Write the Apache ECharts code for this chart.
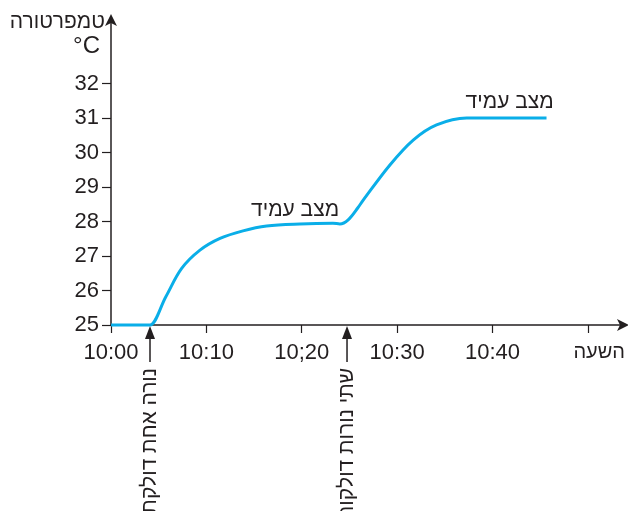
<!DOCTYPE html>
<html><head><meta charset="utf-8">
<script src="https://cdn.jsdelivr.net/npm/echarts@6/dist/echarts.min.js"></script>
<style>html,body{margin:0;padding:0;background:#fff}#c{width:628px;height:511px}</style>
</head><body><div id="c"></div>
<script>
// minutes after 10:00
const minutes = [0, 3.9, 4.09, 5.75, 7.41, 9.33, 11.43, 13.84, 16.32, 19.81, 23.27, 24.0, 24.87, 25.89, 26.45, 29.25, 31.69, 34.14, 37.29, 38.9, 45.67];
const temps   = [25, 25, 25, 25.82, 26.64, 27.17, 27.51, 27.73, 27.87, 27.93, 27.95, 27.93, 28.05, 28.4, 28.62, 29.64, 30.36, 30.8, 31.0, 31.0, 31.0];
const xTickValues = [0, 10, 20, 30, 40, 50];
const xLabelValues = [0, 10, 20, 30, 40];
const xTickLabels = ['10:00', '10:10', '10;20', '10:30', '10:40'];
const yTickValues = [25, 26, 27, 28, 29, 30, 31, 32];
const events = [{ t: 4.09, text: 'נורה אחת דולקת' }, { t: 24.75, text: 'שתי נורות דולקות' }];
const steadyLabels = [{ t: 19.3, v: 28.33, text: 'מצב עמיד' }, { t: 41.8, v: 31.46, text: 'מצב עמיד' }];
const yName = 'טמפרטורה', yUnit = '°C', xName = 'השעה';

const FONT = '"Liberation Sans", Arial, "DejaVu Sans", sans-serif';
const INK = '#231f20';
const chart = echarts.init(document.getElementById('c'), null, { renderer: 'canvas' });
const option = {
  animation: false,
  grid: { left: 111, right: 3, top: 18, bottom: 186 },
  xAxis: {
    type: 'value', min: 0, max: 53.9,
    axisLine: { lineStyle: { color: INK, width: 1.5 }, symbol: ['none', 'arrow'], symbolSize: [9, 12], symbolOffset: [0, 4] },
    axisTick: { show: true, length: 8, lineStyle: { color: INK, width: 1.2 }, customValues: xTickValues },
    axisLabel: { customValues: xLabelValues, margin: 17, color: INK, fontSize: 22, fontFamily: FONT,
      formatter: v => xTickLabels[xLabelValues.indexOf(v)] || '' },
    splitLine: { show: false }
  },
  yAxis: {
    type: 'value', min: 25, max: 33.9,
    axisLine: { show: true, lineStyle: { color: INK, width: 1.5 }, symbol: ['none', 'arrow'], symbolSize: [9, 12], symbolOffset: [0, 4] },
    axisTick: { show: true, length: 9, lineStyle: { color: INK, width: 1.2 }, customValues: yTickValues },
    axisLabel: { customValues: yTickValues, margin: 12, color: INK, fontSize: 22, fontFamily: FONT },
    splitLine: { show: false }
  },
  series: [{
    type: 'line', data: minutes.map((m, i) => [m, temps[i]]),
    showSymbol: false, smooth: 0.35, clip: false,
    lineStyle: { color: '#0aaee8', width: 3 }
  }]
};
chart.setOption(option);

function draw() {
  const g = [];
  const y0 = chart.convertToPixel({ yAxisIndex: 0 }, 25);
  const gridLeft = chart.convertToPixel({ xAxisIndex: 0 }, 0);
  events.forEach(e => {
    const x = chart.convertToPixel({ xAxisIndex: 0 }, e.t);
    g.push({ type: 'line', shape: { x1: x, y1: y0 + 12, x2: x, y2: y0 + 37 }, style: { stroke: INK, lineWidth: 1.5 } });
    g.push({ type: 'polygon', shape: { points: [[x, y0 + 1], [x - 5, y0 + 14], [x + 5, y0 + 14]] }, style: { fill: INK } });
    g.push({ type: 'text', x: x, y: y0 + 43, rotation: Math.PI / 2,
      style: { text: e.text, fill: INK, font: '21px ' + FONT, textAlign: 'right', textVerticalAlign: 'middle' } });
  });
  steadyLabels.forEach(s => {
    const p = chart.convertToPixel({ gridIndex: 0 }, [s.t, s.v]);
    g.push({ type: 'text', x: p[0], y: p[1], style: { text: s.text, fill: INK, font: '21px ' + FONT, textAlign: 'center', textVerticalAlign: 'middle' } });
  });
  g.push({ type: 'text', x: gridLeft - 6, y: 22, style: { text: yName, fill: INK, font: '21px ' + FONT, textAlign: 'right', textVerticalAlign: 'middle' } });
  g.push({ type: 'text', x: gridLeft - 11, y: 46, style: { text: yUnit, fill: INK, font: '24px ' + FONT, textAlign: 'right', textVerticalAlign: 'middle' } });
  g.push({ type: 'text', x: 625, y: 352, style: { text: xName, fill: INK, font: '20px ' + FONT, textAlign: 'right', textVerticalAlign: 'middle' } });
  chart.setOption({ graphic: g });
}
draw();
</script></body></html>
